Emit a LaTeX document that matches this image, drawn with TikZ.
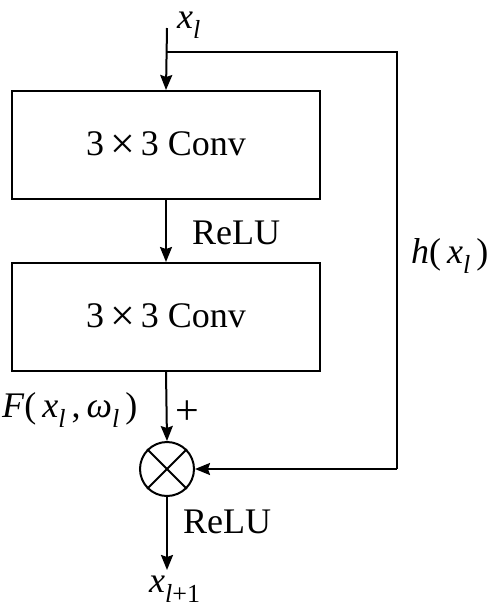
\documentclass[tikz,border=0pt]{standalone}
\usepackage{fontspec}
\setmainfont{Liberation Serif}
\usetikzlibrary{arrows.meta}
\newcommand\lsub[1]{\raisebox{-0.3em}{\fontsize{26}{30}\selectfont #1}}
\newcommand\bigtimes{{\fontsize{44}{44}\selectfont\raisebox{-0.06em}{×}}}
\begin{document}
\begin{tikzpicture}[x=1pt,y=-1pt,
  every node/.style={font=\fontsize{36}{42}\selectfont},
  conv/.style={draw,line width=2pt,minimum width=308pt,minimum height=108pt,inner sep=0pt},
  line/.style={line width=2pt},
  arr/.style={line width=2pt,-{Stealth[length=15pt,width=12pt,inset=2pt]}},
  lbl/.style={inner sep=0pt}]
\useasboundingbox (0,0) rectangle (488,614);
\node[conv] (c1) at (166,145) {3\,\bigtimes\,3 Conv};
\node[conv] (c2) at (166,317) {3\,\bigtimes\,3 Conv};
\node[draw,circle,line width=2pt,minimum size=54pt,inner sep=0pt] (sum) at (167,469) {};
\draw[line] (sum.45) -- (sum.225);
\draw[line] (sum.135) -- (sum.315);
\coordinate (in) at (167,28);
\coordinate (br) at (167,52);
\coordinate (tr) at (397,52);
\coordinate (brr) at (397,469);
\coordinate (out) at (167,570);
\draw[arr] (in) -- (c1.north);
\draw[line] (br) -- (tr) -- (brr);
\draw[arr] (brr) -- (sum.east);
\draw[arr] (c1.south) -- (c2.north);
\draw[arr] (c2.south) -- (sum.north);
\draw[arr] (sum.south) -- (out);
\node[lbl,anchor=base west] (xl) at (177,28) {\textit{x}\lsub{\textit{l}}};
\node[lbl,anchor=base west] (r1) at (192,244) {ReLU};
\node[lbl,anchor=base west] (r2) at (183,533) {ReLU};
\node[lbl,anchor=base west] (h) at (411,263) {\textit{h}(\,\textit{x}\lsub{\textit{l}}\,)};
\node[lbl,anchor=base west] (f) at (2,417) {\textit{F}(\,\textit{x}\lsub{\textit{l}}\,,\,\textit{ω}\lsub{\textit{l}}\,)};
\node[lbl,font=\fontsize{42}{42}\selectfont] (plus) at (187,413) {+};
\node[lbl,anchor=base west] (xo) at (149,592) {\textit{x}\lsub{\textit{l}+1}};
\end{tikzpicture}
\end{document}
